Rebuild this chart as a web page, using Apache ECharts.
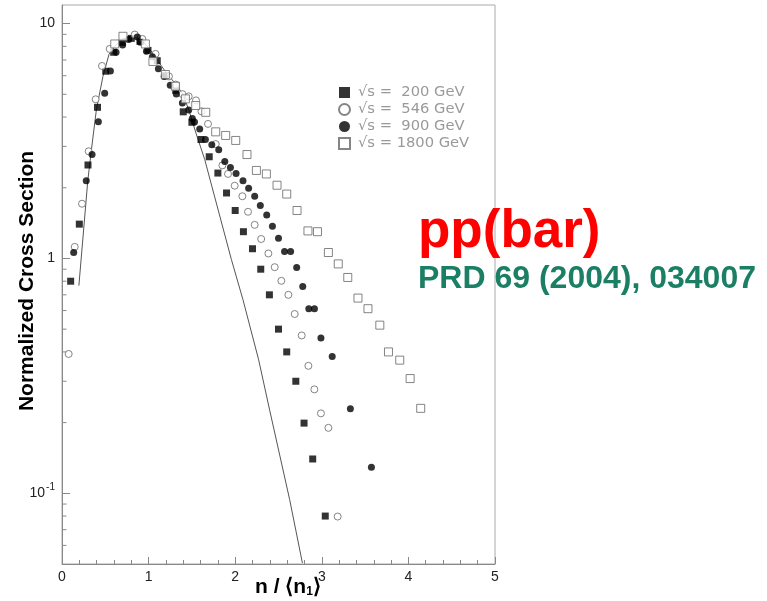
<!DOCTYPE html>
<html><head><meta charset="utf-8">
<script src="https://cdn.jsdelivr.net/npm/echarts@6.0.0/dist/echarts.min.js"></script>
<style>html,body{margin:0;padding:0;background:#fff}#c{width:767px;height:601px}</style>
</head><body><div id="c"></div>
<script>
const seriesNames = ['√s =  200 GeV', '√s =  546 GeV', '√s =  900 GeV', '√s = 1800 GeV'];
const yMinorTicks = [0.06,0.07,0.08,0.09,0.2,0.3,0.4,0.5,0.6,0.7,0.8,0.9,2,3,4,5,6,7,8,9];

const data200 = [[0.10,0.80],[0.20,1.40],[0.30,2.50],[0.41,4.40],[0.505,6.27],[0.597,7.55],[0.697,8.32],[0.80,8.65],[0.90,8.4],[0.993,7.69],[1.10,6.95],[1.197,6.0],[1.313,5.2],[1.40,4.21],[1.50,3.8],[1.605,3.21],[1.70,2.71],[1.80,2.31],[1.90,1.90],[2.00,1.60],[2.095,1.30],[2.20,1.10],[2.295,0.90],[2.395,0.70],[2.50,0.50],[2.595,0.40],[2.70,0.30],[2.795,0.199],[2.895,0.14],[3.04,0.080]];

const data546 = [[0.077,0.392],[0.147,1.12],[0.231,1.71],[0.308,2.86],[0.389,4.76],[0.462,6.60],[0.551,7.80],[0.84,8.98],[0.928,8.60],[1.08,7.43],[1.235,5.96],[1.313,5.50],[1.39,5.01],[1.463,4.90],[1.547,4.71],[1.61,4.23],[1.686,3.74],[1.775,3.07],[1.852,2.49],[1.917,2.29],[1.994,2.04],[2.083,1.84],[2.148,1.58],[2.225,1.39],[2.30,1.21],[2.383,1.05],[2.456,0.918],[2.533,0.803],[2.614,0.70],[2.687,0.58],[2.768,0.47],[2.845,0.349],[2.914,0.277],[2.99,0.219],[3.076,0.19],[3.183,0.0796]];

const data900 = [[0.135,1.06],[0.28,2.14],[0.347,2.77],[0.42,3.82],[0.493,5.05],[0.559,6.28],[0.624,7.55],[0.70,8.11],[0.77,8.55],[0.87,8.77],[0.905,8.32],[0.975,7.62],[1.044,7.22],[1.113,6.43],[1.18,5.95],[1.25,5.46],[1.32,5.01],[1.39,4.59],[1.463,4.29],[1.505,3.94],[1.53,3.81],[1.59,3.56],[1.656,3.21],[1.73,3.05],[1.81,2.90],[1.88,2.59],[1.945,2.44],[2.01,2.30],[2.09,2.14],[2.155,1.99],[2.225,1.84],[2.29,1.68],[2.364,1.53],[2.43,1.37],[2.50,1.22],[2.57,1.07],[2.64,1.07],[2.71,0.916],[2.78,0.760],[2.85,0.611],[2.915,0.611],[2.99,0.458],[3.12,0.382],[3.33,0.229],[3.573,0.129]];

const data1800 = [[0.609,8.19],[0.704,8.83],[0.963,8.19],[1.05,6.90],[1.194,6.07],[1.31,5.41],[1.425,4.78],[1.544,4.48],[1.66,4.19],[1.775,3.46],[1.89,3.34],[2.006,3.18],[2.136,2.77],[2.245,2.37],[2.36,2.29],[2.483,2.05],[2.595,1.88],[2.714,1.60],[2.84,1.31],[2.95,1.30],[3.076,1.06],[3.19,0.948],[3.30,0.83],[3.418,0.678],[3.533,0.611],[3.67,0.52],[3.77,0.40],[3.90,0.369],[4.02,0.308],[4.142,0.23]];

const curveData = [[0.195,0.766],[0.297,2.13],[0.34,2.91],[0.397,4.3],[0.473,5.96],[0.543,7.4],[0.609,8.0],[0.70,8.6],[0.80,8.85],[0.90,8.6],[1.00,7.9],[1.10,7.0],[1.20,6.2],[1.30,5.6],[1.397,5.01],[1.475,4.17],[1.55,3.39],[1.648,2.64],[1.705,2.2],[1.956,0.99],[2.09,0.667],[2.271,0.370],[2.398,0.226],[2.629,0.094],[2.776,0.0505]];

const chart = echarts.init(document.getElementById('c'), null, {renderer: 'canvas'});
const axisGray = '#888';
const openStyle = {color: '#fff', borderColor: '#666', borderWidth: 1};
const option = {
  animation: false,
  backgroundColor: '#fff',
  grid: {left: 62, right: 272, top: 5, bottom: 37, show: true, borderColor: '#aaa', borderWidth: 1},
  legend: {
    data: seriesNames,
    orient: 'vertical', left: 333, top: 80,
    itemWidth: 11, itemHeight: 11, itemGap: 2,
    textStyle: {color: '#999', fontSize: 14.7, fontFamily: 'DejaVu Sans', padding: [0, 0, 0, 3], lineHeight: 14}
  },
  xAxis: {
    type: 'value', min: 0, max: 5, interval: 1,
    axisLine: {lineStyle: {color: axisGray, width: 1}},
    axisTick: {inside: true, length: 7, lineStyle: {color: axisGray}},
    minorTick: {show: true, splitNumber: 5, length: 4, lineStyle: {color: axisGray}},
    splitLine: {show: false},
    axisLabel: {color: '#222', fontSize: 14, fontFamily: 'Liberation Sans', margin: 6}
  },
  yAxis: {
    type: 'log', logBase: 10, min: 0.05, max: 12,
    axisLine: {show: true, lineStyle: {color: axisGray, width: 1}},
    axisTick: {inside: true, length: 8, lineStyle: {color: axisGray}},
    splitLine: {show: false},
    axisLabel: {
      color: '#222', fontSize: 14, fontFamily: 'Liberation Sans', margin: 7,
      showMinLabel: false, showMaxLabel: false,
      formatter: function (v) {
        const l = Math.log10(v), r = Math.round(l);
        if (Math.abs(l - r) > 1e-6) return '';
        if (r === 0) return '1';
        if (r === 1) return '10';
        return '10{sup|' + r + '}';
      },
      rich: {sup: {fontSize: 10, color: '#222', fontFamily: 'Liberation Sans', padding: [0, 0, 12, 1]}}
    }
  },
  graphic: [
    {type: 'text', x: 27, y: 281, rotation: Math.PI / 2,
     style: {text: 'Normalized Cross Section', font: 'bold 21px "Liberation Sans"', fill: '#000', align: 'center', verticalAlign: 'middle'}},
    {type: 'text', x: 255, y: 576,
     style: {text: '{b|n / ⟨n}{s|1}{b|⟩}', fill: '#000', align: 'left', verticalAlign: 'top',
       rich: {b: {font: 'bold 21px "Liberation Sans"', fill: '#000'}, s: {font: 'bold 12px "Liberation Sans"', fill: '#000', padding: [10, 0, 0, 0]}}}},
    {type: 'text', x: 418, y: 206,
     style: {text: 'pp(bar)', font: 'bold 53px "Liberation Sans"', fill: '#ff0000', align: 'left', verticalAlign: 'top'}},
    {type: 'text', x: 418, y: 263,
     style: {text: 'PRD 69 (2004), 034007', font: 'bold 32px "Liberation Sans"', fill: '#1a7f64', align: 'left', verticalAlign: 'top'}}
  ],
  series: [
    {type: 'line', data: curveData, showSymbol: false, symbol: 'none', z: 1, silent: true,
     lineStyle: {color: '#555', width: 1}},
    {type: 'custom', coordinateSystem: 'cartesian2d', silent: true, z: 3,
     data: yMinorTicks.map(v => [0, v]),
     renderItem: function (params, api) {
       const p = api.coord([0, api.value(1)]);
       return {type: 'line', shape: {x1: p[0], y1: p[1], x2: p[0] + 4.5, y2: p[1]}, style: {stroke: axisGray, lineWidth: 1}};
     }},
    {name: seriesNames[0], type: 'scatter', data: data200, symbol: 'rect', symbolSize: 7, z: 2, itemStyle: {color: '#000'}},
    {name: seriesNames[1], type: 'scatter', data: data546, symbol: 'circle', symbolSize: 7, z: 2, itemStyle: openStyle},
    {name: seriesNames[2], type: 'scatter', data: data900, symbol: 'circle', symbolSize: 7, z: 2, itemStyle: {color: '#000'}},
    {name: seriesNames[3], type: 'scatter', data: data1800, symbol: 'rect', symbolSize: 8, z: 2, itemStyle: openStyle}
  ]
};
chart.setOption(option);
</script></body></html>
